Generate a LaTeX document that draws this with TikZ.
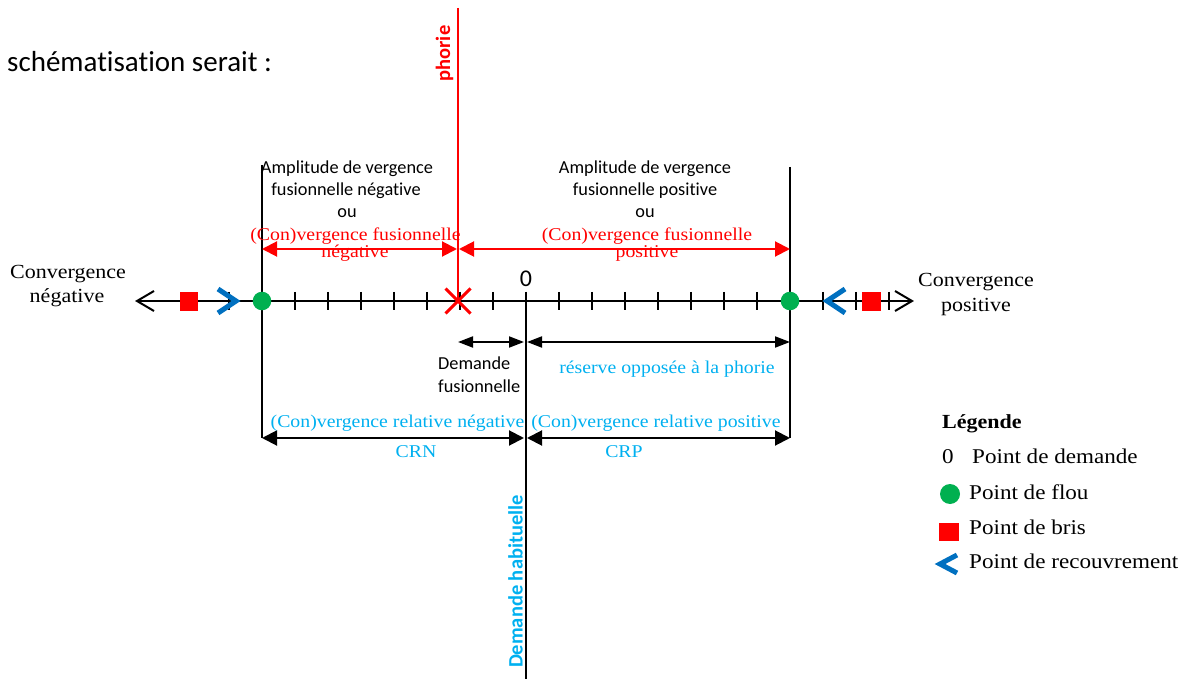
\documentclass[tikz,border=0pt]{standalone}
\usepackage{fontspec}
\setmainfont{Liberation Serif}[FakeStretch=1.1]
\newfontfamily\calfont{Carlito}[Ligatures=NoCommon]
\usetikzlibrary{arrows.meta}
\definecolor{xred}{HTML}{FF0000}
\definecolor{xgreen}{HTML}{00B050}
\definecolor{xblue}{HTML}{0070C0}
\definecolor{xcyan}{HTML}{00B0F0}
\begin{document}
\begin{tikzpicture}[x=1pt,y=-1pt,
  lbl/.style={anchor=base,inner sep=0pt},
  lblw/.style={anchor=base west,inner sep=0pt},
  cal/.style={font=\calfont\fontsize{18.3}{22}\selectfont},
  ser/.style={font=\fontsize{18}{20}\selectfont},
  leg/.style={font=\fontsize{21}{24}\selectfont},
  conv/.style={font=\fontsize{20}{24}\selectfont},
  rot/.style={rotate=90,anchor=base,inner sep=0pt,font=\calfont\bfseries\fontsize{20.5}{24}\selectfont},
  vline/.style={line width=1.3pt,draw=black},
  phline/.style={line width=1.6pt,color=red},
  axisline/.style={line width=2pt,draw=black},
  redarrow/.style={line width=2pt,draw=xred,fill=xred,{Triangle[length=15pt,width=15pt]}-{Triangle[length=15pt,width=15pt]}},
  bigarrow/.style={line width=2pt,draw=black,{Triangle[length=15pt,width=15pt]}-{Triangle[length=15pt,width=15pt]}},
  smallarrow/.style={line width=2pt,draw=black,{Triangle[length=15pt,width=11pt]}-{Triangle[length=15pt,width=11pt]}},
  chev/.style={line width=5pt,draw=xblue,line join=miter,line cap=butt},
  bris/.style={fill=xred,draw=none},
  flou/.style={fill=xgreen,draw=none}
]
\useasboundingbox (0,0) rectangle (1187,679);

% intro text
\node[lblw,font=\calfont\fontsize{29}{34}\selectfont] (intro) at (7,72) {schématisation serait :};

% coordinates
\coordinate (phTop) at (458,8);
\coordinate (X) at (458,301);
\coordinate (flouL) at (262,301);
\coordinate (flouR) at (790,301);
\coordinate (vLtop) at (262,165);
\coordinate (vLbot) at (262,438);
\coordinate (vRtop) at (790,167);
\coordinate (vRbot) at (790,438);
\coordinate (zTop) at (526,292);
\coordinate (zBot) at (526,679);
\coordinate (axL) at (137,301);
\coordinate (axR) at (912,301);

% vertical lines
\draw[vline] (vLtop) -- (vLbot);
\draw[vline] (vRtop) -- (vRbot);
\draw[vline] (zTop) -- (zBot);

% axis
\draw[axisline] (axL) -- (axR);
\draw[axisline,line join=miter] (154,291) -- (axL) -- (154,311);
\draw[axisline,line join=miter] (895,291) -- (axR) -- (895,311);
\foreach \k in {-10,...,11}{
  \draw[axisline] ({526+33*\k},292) -- ({526+33*\k},310);
}
\draw[phline] (phTop) -- (X);

% markers on axis
\fill[bris] (180,292) rectangle (198,311);
\fill[bris] (862,292) rectangle (881,311);
\draw[chev] (218,289) -- (236,301) -- (218,313);
\draw[chev] (845,289) -- (827,301) -- (845,313);
\fill[flou] (flouL) circle (9.3);
\fill[flou] (flouR) circle (9.3);
\draw[draw=xred,line width=3pt] (445.5,288.5) -- (470.5,313.5);
\draw[draw=xred,line width=3pt] (445.5,313.5) -- (470.5,288.5);

% zero label
\node[lbl,font=\calfont\fontsize{24}{28}\selectfont] (zlab) at (526,287) {0};

% rotated labels
\node[rot,text=xred] (phorie) at (450,53.5) {phorie};
\node[rot,text=xcyan] (habit) at (522.5,581.5) {Demande habituelle};

% convergence labels
\node[lbl,conv] (cn1) at (68,279) {Convergence};
\node[lbl,conv] (cn2) at (67,303) {négative};
\node[lbl,conv] (cp1) at (976,287) {Convergence};
\node[lbl,conv] (cp2) at (976,312) {positive};

% amplitude blocks
\node[lbl,cal] (aL1) at (347,174) {Amplitude de vergence};
\node[lbl,cal] (aL2) at (346,196) {fusionnelle négative};
\node[lbl,cal] (aL3) at (347,218) {ou};
\node[lbl,ser,text=xred] (rL1) at (355.5,241) {(Con)vergence fusionnelle};
\node[lbl,ser,text=xred] (rL2) at (355,258) {négative};
\node[lbl,cal] (aR1) at (645,174) {Amplitude de vergence};
\node[lbl,cal] (aR2) at (645,196) {fusionnelle positive};
\node[lbl,cal] (aR3) at (645,218) {ou};
\node[lbl,ser,text=xred] (rR1) at (647,241) {(Con)vergence fusionnelle};
\node[lbl,ser,text=xred] (rR2) at (647,258) {positive};

% red arrows
\coordinate (raL1) at (262,249);
\coordinate (raL2) at (457,249);
\coordinate (raR1) at (459,249);
\coordinate (raR2) at (790,249);
\draw[redarrow] (raL1) -- (raL2);
\draw[redarrow] (raR1) -- (raR2);

% demande fusionnelle / reserve
\coordinate (df1) at (458,342);
\coordinate (df2) at (524,342);
\coordinate (rs1) at (527,342);
\coordinate (rs2) at (790,342);
\draw[smallarrow] (df1) -- (df2);
\draw[smallarrow] (rs1) -- (rs2);
\node[lblw,cal] (dfa) at (438,370) {Demande};
\node[lblw,cal] (dfb) at (438,392) {fusionnelle};
\node[lbl,ser,text=xcyan] (res) at (667,373) {réserve opposée à la phorie};

% relative convergence
\coordinate (crn1) at (262,438);
\coordinate (crn2) at (524,438);
\coordinate (crp1) at (527,438);
\coordinate (crp2) at (790,438);
\draw[bigarrow] (crn1) -- (crn2);
\draw[bigarrow] (crp1) -- (crp2);
\node[lbl,ser,text=xcyan] (crnt) at (397.5,427) {(Con)vergence relative négative};
\node[lbl,ser,text=xcyan] (crpt) at (656,427) {(Con)vergence relative positive};
\node[lbl,ser,text=xcyan] (crn) at (416,457) {CRN};
\node[lbl,ser,text=xcyan] (crp) at (624,457) {CRP};

% legend
\node[lblw,font=\bfseries\fontsize{20}{24}\selectfont] (legT) at (942,428) {Légende};
\node[lblw,leg] (leg0) at (942,463) {0};
\node[lblw,leg] (legD) at (972,463) {Point de demande};
\fill[flou] (950,494) circle (10);
\node[lblw,leg] (legF) at (969,499) {Point de flou};
\fill[bris] (939,523) rectangle (959,541);
\node[lblw,leg] (legB) at (969,534) {Point de bris};
\draw[chev] (957,555) -- (940,564) -- (957,573);
\node[lblw,leg] (legR) at (969,568) {Point de recouvrement};
\end{tikzpicture}
\end{document}
